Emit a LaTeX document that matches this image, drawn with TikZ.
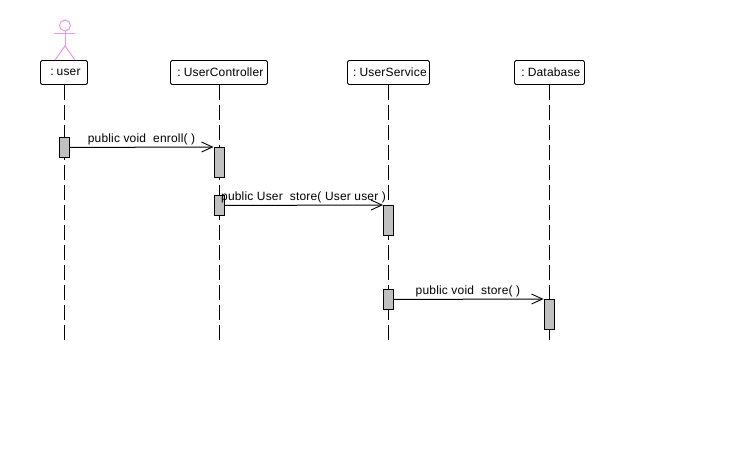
\documentclass[tikz,border=0pt]{standalone}
\usepackage{fontspec}
\setmainfont{Liberation Sans}
\newfontfamily\msgfont[LetterSpace=1.5]{Liberation Sans}
\usetikzlibrary{arrows.meta}
\definecolor{actorpink}{RGB}{232,150,232}
\definecolor{bargray}{RGB}{192,192,192}
\tikzset{
  obj/.style={draw=black,line width=0.9pt,rounded corners=1.5pt,minimum height=24pt,inner sep=0pt,font=\fontsize{12}{14}\selectfont\msgfont,anchor=north west},
  life/.style={draw=black,line width=1pt,dash pattern=on 15pt off 5pt},
  bar/.style={draw=black,fill=bargray,line width=0.9pt,minimum width=10pt,inner sep=0pt,anchor=north},
  msg/.style={draw=black,line width=1pt,-{Straight Barb[length=11pt,width=10pt,line width=0.9pt]}},
  lab/.style={inner sep=0pt,font=\fontsize{12}{14}\selectfont\msgfont,anchor=base},
  actor/.style={draw=actorpink,line width=1pt}
}
\newcommand{\objtext}[1]{\hspace{3pt}\raisebox{-1pt}{:\hspace{3pt}#1}}
\begin{document}
\begin{tikzpicture}[x=1pt,y=-1pt]
\useasboundingbox (0,0) rectangle (740,459);
% objects
\node[obj,minimum width=47pt] (user) at (40,60) {\objtext{user}};
\node[obj,minimum width=97pt] (ctrl) at (170,60) {\objtext{UserController}};
\node[obj,minimum width=82pt] (serv) at (347,60) {\objtext{UserService}};
\node[obj,minimum width=70pt] (db) at (514,60) {\objtext{Database}};
% lifeline ends
\coordinate (userEnd) at (64,341);
\coordinate (ctrlEnd) at (219,341);
\coordinate (servEnd) at (388.5,341);
\coordinate (dbEnd) at (549,341);
\draw[life] (64,84.5) -- (userEnd);
\draw[life] (219,84.5) -- (ctrlEnd);
\draw[life] (388.5,84.5) -- (servEnd);
\draw[life] (549,84.5) -- (dbEnd);
% activation bars
\node[bar,minimum height=20pt] (u1) at (64,137) {};
\node[bar,minimum height=30pt] (c1) at (219,147) {};
\node[bar,minimum height=20pt] (c2) at (219,195) {};
\node[bar,minimum height=30pt] (s1) at (388.5,205) {};
\node[bar,minimum height=20pt] (s2) at (388.5,289) {};
\node[bar,minimum height=30pt] (d1) at (549,299) {};
% messages
\draw[msg] (u1.east) -- (c1.north west);
\draw[msg] (c2.east) -- (s1.north west);
\draw[msg] (s2.east) -- (d1.north west);
\node[lab] (m1) at (141.5,142) {public void\hspace{0.3em} enroll( )};
\node[lab] (m2) at (303.5,200) {public User\hspace{0.3em} store( User user )};
\node[lab] (m3) at (468,294) {public void\hspace{0.3em} store( )};
% actor
\draw[actor] (65,25.5) circle (5.5pt);
\draw[actor] (65,31) -- (65,46);
\draw[actor] (54,33) -- (75,33);
\draw[actor] (55,60) -- (65,46) -- (75,60);
\end{tikzpicture}
\end{document}
